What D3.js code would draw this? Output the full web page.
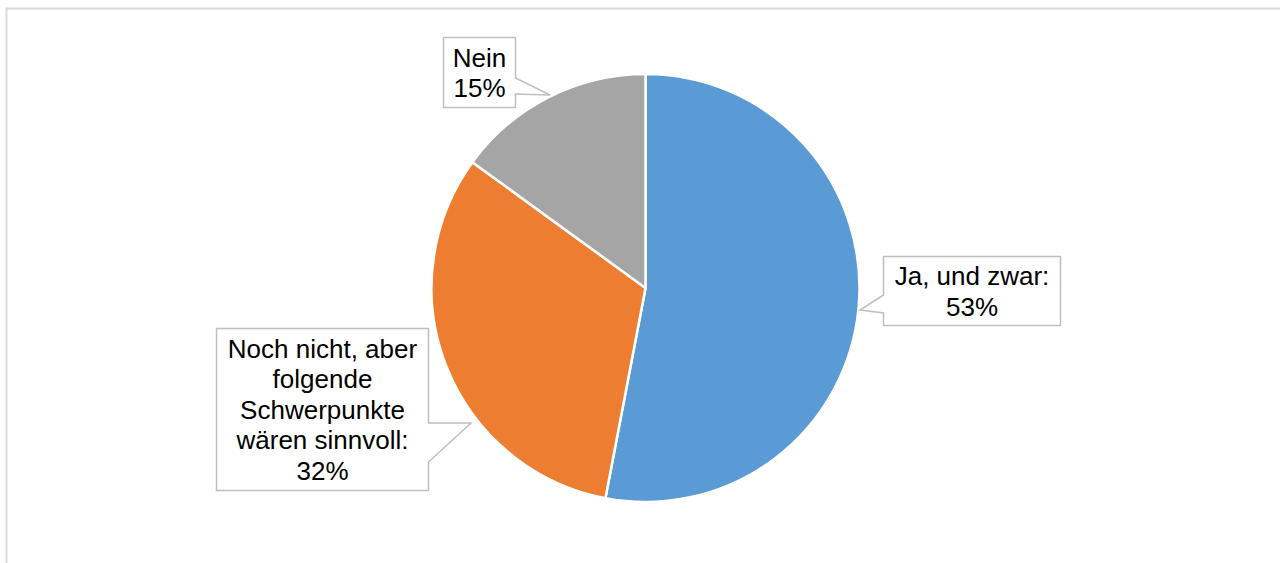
<!DOCTYPE html>
<html>
<head>
<meta charset="utf-8">
<script src="https://cdn.jsdelivr.net/npm/d3@7"></script>
<style>
  html, body { margin: 0; padding: 0; background: #fff; }
  svg { display: block; }
  text { font-family: "Liberation Sans", Arial, sans-serif; }
</style>
</head>
<body>
<svg id="chart" width="1280" height="563"></svg>
<script>
// Survey answers and their shares (percent)
const categories = ["Ja, und zwar:", "Noch nicht, aber folgende Schwerpunkte wären sinnvoll:", "Nein"];
const values = [53, 32, 15];
const colors = ["#5B9BD5", "#ED7D31", "#A5A5A5"];

// How each category label wraps inside its callout
const labelLines = [
  ["Ja, und zwar:"],
  ["Noch nicht, aber", "folgende", "Schwerpunkte", "wären sinnvoll:"],
  ["Nein"]
];

const W = 1280, H = 563;
const cx = 645.5, cy = 288, radius = 214;

const svg = d3.select("#chart");

// chart area frame (extends past the right and bottom edges)
svg.append("path")
  .attr("d", `M6.5,${H + 5} L6.5,8.5 L${W + 5},8.5`)
  .attr("fill", "none")
  .attr("stroke", "#d9d9d9")
  .attr("stroke-width", 2);

const pie = d3.pie().sort(null).value(d => d).startAngle(0).endAngle(2 * Math.PI);
const arcs = pie(values);
const arc = d3.arc().innerRadius(0).outerRadius(radius);

const g = svg.append("g").attr("transform", `translate(${cx},${cy})`);
g.selectAll("path.slice")
  .data(arcs)
  .join("path")
  .attr("class", "slice")
  .attr("d", arc)
  .attr("fill", (d, i) => colors[i])
  .attr("stroke", "#fff")
  .attr("stroke-width", 2.5)
  .attr("stroke-linejoin", "round");

// Callout boxes: box rectangle, the side the pointer leaves from,
// the two base positions along that side and the pointer tip.
const callouts = [
  { x: 883.5, y: 256.5, w: 177, h: 69, side: "left",  b1: 295, b2: 313, tip: [860, 310] },
  { x: 216.5, y: 328.5, w: 212, h: 162, side: "right", b1: 423, b2: 462, tip: [471, 423] },
  { x: 443.5, y: 37.5,  w: 72,  h: 70,  side: "right", b1: 78,  b2: 94,  tip: [550, 95] }
];

function calloutPath(c) {
  const x0 = c.x, y0 = c.y, x1 = c.x + c.w, y1 = c.y + c.h;
  const [tx, ty] = c.tip;
  if (c.side === "right") {
    return `M${x0},${y0} L${x1},${y0} L${x1},${c.b1} L${tx},${ty} L${x1},${c.b2} L${x1},${y1} L${x0},${y1} Z`;
  }
  return `M${x0},${y0} L${x1},${y0} L${x1},${y1} L${x0},${y1} L${x0},${c.b2} L${tx},${ty} L${x0},${c.b1} Z`;
}

const fontSize = 26, lineH = 30.5;
const labels = svg.append("g");
callouts.forEach((c, i) => {
  labels.append("path")
    .attr("d", calloutPath(c))
    .attr("fill", "#fff")
    .attr("stroke", "#bfbfbf")
    .attr("stroke-width", 1.5)
    .attr("stroke-linejoin", "miter");

  const lines = labelLines[i].concat([values[i] + "%"]);
  const midX = c.x + c.w / 2;
  const midY = c.y + c.h / 2;
  const firstBase = midY - (lines.length - 1) * lineH / 2 + fontSize * 0.36;
  const t = labels.append("text")
    .attr("text-anchor", "middle")
    .attr("font-size", fontSize)
    .attr("fill", "#000");
  lines.forEach((ln, k) => {
    t.append("tspan")
      .attr("x", midX)
      .attr("y", firstBase + k * lineH)
      .text(ln);
  });
});
</script>
</body>
</html>
